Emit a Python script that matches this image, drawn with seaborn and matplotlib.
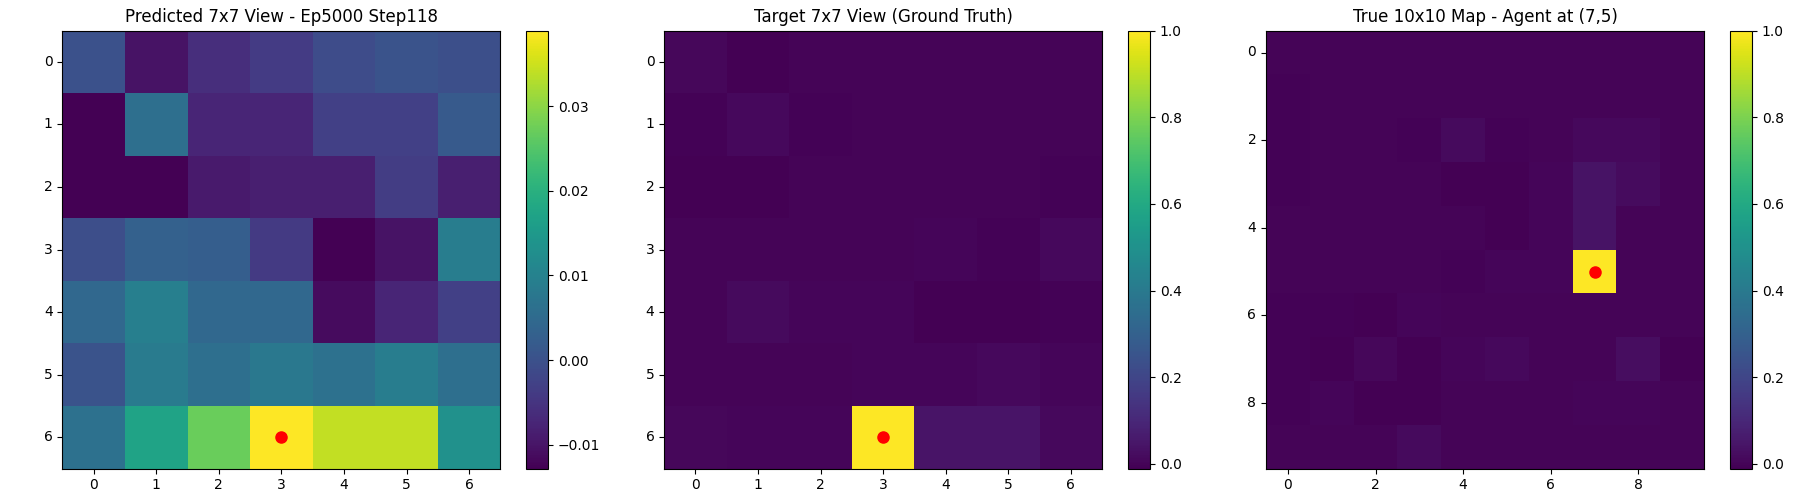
import matplotlib
matplotlib.use("Agg")
import matplotlib.pyplot as plt
import numpy as np
import seaborn as sns

titles = ["Predicted 7x7 View - Ep5000 Step118",
          "Target 7x7 View (Ground Truth)",
          "True 10x10 Map - Agent at (7,5)"]

predicted = [
    [.0001, -.0102, -.0060, -.0038, -.0010, .0005, -.0004],
    [-.0128, .0058, -.0075, -.0075, -.0030, -.0030, .0016],
    [-.0128, -.0128, -.0092, -.0085, -.0085, -.0036, -.0085],
    [-.0006, .0030, .0024, -.0040, -.0128, -.0102, .0089],
    [.0044, .0094, .0044, .0044, -.0112, -.0075, -.0030],
    [.0004, .0086, .0058, .0079, .0063, .0090, .0058],
    [.0063, .0172, .0270, .0389, .0342, .0342, .0131],
]
target = [
    [.006, -.008, 0, 0, 0, 0, 0],
    [-.006, .010, -.006, 0, 0, 0, 0],
    [-.008, -.008, 0, 0, 0, 0, -.006],
    [0, 0, 0, 0, .002, -.007, .010],
    [0, .015, .002, .002, -.009, -.009, -.005],
    [-.002, 0, 0, .002, .004, .010, .002],
    [.006, .002, .002, 1.0, .042, .042, .010],
]
true_map = [
    [0, 0, 0, 0, 0, 0, 0, 0, 0, 0],
    [-.004, 0, 0, -.002, 0, 0, 0, 0, 0, 0],
    [-.004, 0, 0, -.007, .016, -.006, 0, .009, .009, 0],
    [-.004, 0, 0, 0, -.01, -.01, .004, .04, .018, -.002],
    [0, 0, 0, 0, 0, -.01, .003, .04, 0, 0],
    [0, 0, 0, 0, -.004, .002, .004, 1.0, 0, 0],
    [-.004, -.004, -.008, .003, 0, 0, 0, 0, 0, -.002],
    [-.004, -.01, .007, -.01, .002, .012, 0, -.002, .024, -.008],
    [-.004, .003, -.01, -.01, 0, 0, 0, .004, .002, 0],
    [0, 0, 0, .014, 0, 0, 0, 0, 0, 0],
]

agent_x = [3, 3, 7]
agent_y = [6, 6, 5]
ranges = [(-.0128, .0389), (-.011, 1.0), (-.011, 1.0)]
cbar_ticks = [[-.01, 0, .01, .02, .03],
              [0, .2, .4, .6, .8, 1.0],
              [0, .2, .4, .6, .8, 1.0]]
tick_steps = [1, 1, 2]
grids = [predicted, target, true_map]

W, H = 1800, 500
ax_left = [62.4, 664.2, 1266.0]
cb_left = [526.4, 1128.2, 1730.2]
top, bottom = 30.6, 468.6
ax_w, cb_w = 438.0, 21.9

fig = plt.figure(figsize=(18, 5), dpi=100)
for i in range(3):
    ax = fig.add_axes([ax_left[i] / W, 1 - bottom / H, ax_w / W, (bottom - top) / H])
    cax = fig.add_axes([cb_left[i] / W, 1 - bottom / H, cb_w / W, (bottom - top) / H])
    data = np.array(grids[i], dtype=float)
    sns.heatmap(data, ax=ax, cbar_ax=cax, cmap="viridis",
                vmin=ranges[i][0], vmax=ranges[i][1],
                xticklabels=tick_steps[i], yticklabels=tick_steps[i],
                cbar_kws={"ticks": cbar_ticks[i]})
    ax.tick_params(axis="y", labelrotation=0)
    ax.tick_params(axis="x", labelrotation=0)
    for s in ax.spines.values():
        s.set_visible(True)
        s.set_linewidth(0.8)
    cb = ax.collections[0].colorbar
    cb.outline.set_visible(True)
    cb.outline.set_linewidth(0.8)
    cb.outline.set_edgecolor("black")
    ax.plot(agent_x[i] + 0.5, agent_y[i] + 0.5, "o", color="red", markersize=8)
    ax.set_title(titles[i], fontsize=12)

fig.savefig("out.png", dpi=100)
